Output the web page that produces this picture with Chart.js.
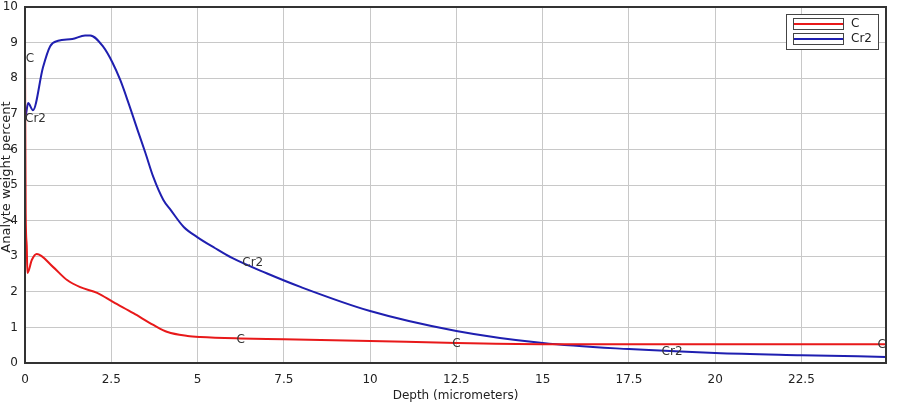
<!DOCTYPE html>
<html>
<head>
<meta charset="utf-8">
<script src="https://cdn.jsdelivr.net/npm/chart.js@4.4.1/dist/chart.umd.min.js"></script>
<style>
  html, body { margin: 0; padding: 0; background: #fff; }
  #wrap { width: 899px; height: 402px; }
</style>
</head>
<body>
<div id="wrap"><canvas id="chart"></canvas></div>
<script>
// Depth profile: analyte weight percent vs depth

const C_DEPTH = [0, 0.02, 0.05, 0.07, 0.2, 0.34, 0.81, 1.22, 1.6, 2.09, 2.56, 3.14, 3.72, 4.13, 4.71, 5.08, 6.25, 7.5, 10, 12.5, 15, 17.5, 20, 22.5, 24.95];
const C_VALUE = [8.6, 4.2, 3.3, 2.53, 2.9, 3.06, 2.7, 2.33, 2.13, 1.97, 1.71, 1.4, 1.07, 0.87, 0.76, 0.73, 0.69, 0.67, 0.62, 0.56, 0.53, 0.53, 0.53, 0.53, 0.53];

const CR2_DEPTH = [0, 0.03, 0.09, 0.23, 0.52, 0.73, 0.96, 1.37, 1.74, 1.89, 2.27, 2.53, 2.76, 3.0, 3.26, 3.49, 3.72, 4.01, 4.22, 4.6, 5.0, 5.5, 6.0, 7.0, 8.0, 10, 12.5, 15, 17.5, 20, 22.5, 24.95];
const CR2_VALUE = [6.9, 7.0, 7.3, 7.1, 8.3, 8.9, 9.05, 9.1, 9.2, 9.2, 8.88, 8.45, 7.95, 7.3, 6.55, 5.9, 5.22, 4.58, 4.3, 3.82, 3.53, 3.23, 2.95, 2.52, 2.13, 1.46, 0.9, 0.56, 0.39, 0.28, 0.22, 0.17];

const X_TICKS = [0, 2.5, 5, 7.5, 10, 12.5, 15, 17.5, 20, 22.5];
const X_TITLE = 'Depth (micrometers)';
const Y_TITLE = 'Analyte weight percent';

// curve labels placed on the lines: [text, depth, value, align]
const CURVE_LABELS = [
  ['C', 0.02, 8.55, 'left'],
  ['Cr2', 0.0, 6.85, 'left'],
  ['Cr2', 6.6, 2.8, 'center'],
  ['C', 6.25, 0.65, 'center'],
  ['C', 12.5, 0.53, 'center'],
  ['Cr2', 18.75, 0.3, 'center'],
  ['C', 24.95, 0.52, 'right'],
];

const SERIES = [
  { name: 'C', color: '#e8191a' },
  { name: 'Cr2', color: '#1f1fb0' },
];

const FONT = '"DejaVu Sans", Verdana, sans-serif';

function toPoints(xs, ys) {
  return xs.map((x, i) => ({ x: x, y: ys[i] }));
}

const extras = {
  id: 'extras',
  afterDatasetsDraw(chart) {
    const { ctx, chartArea: a, scales } = chart;
    ctx.save();
    // frame
    ctx.strokeStyle = '#333';
    ctx.lineWidth = 2;
    ctx.strokeRect(a.left, a.top, a.right - a.left, a.bottom - a.top);

    // curve labels
    ctx.fillStyle = '#333';
    ctx.font = '12px ' + FONT;
    ctx.textBaseline = 'middle';
    CURVE_LABELS.forEach(([t, x, y, al]) => {
      ctx.textAlign = al;
      ctx.fillText(t, scales.x.getPixelForValue(x), scales.y.getPixelForValue(y));
    });

    // legend
    const lx = a.right - 100, ly = a.top + 7;
    ctx.fillStyle = '#fff';
    ctx.fillRect(lx, ly, 92, 35);
    ctx.lineWidth = 1;
    ctx.strokeStyle = '#444';
    ctx.strokeRect(lx + 0.5, ly + 0.5, 92, 35);
    SERIES.forEach((s, i) => {
      const y0 = ly + 4 + i * 15;
      ctx.strokeStyle = '#444';
      ctx.lineWidth = 1;
      ctx.strokeRect(lx + 7.5, y0 + 0.5, 50, 11);
      ctx.strokeStyle = s.color;
      ctx.lineWidth = 2;
      ctx.beginPath();
      ctx.moveTo(lx + 8, y0 + 6);
      ctx.lineTo(lx + 57, y0 + 6);
      ctx.stroke();
      ctx.fillStyle = '#222';
      ctx.textAlign = 'left';
      ctx.fillText(s.name, lx + 65, y0 + 6);
    });

    // axis titles
    ctx.fillStyle = '#222';
    ctx.font = '12px ' + FONT;
    ctx.textAlign = 'center';
    ctx.fillText(X_TITLE, (a.left + a.right) / 2, 396);
    ctx.font = '13px ' + FONT;
    ctx.translate(7, 177);
    ctx.rotate(-Math.PI / 2);
    ctx.fillText(Y_TITLE, 0, 0);
    ctx.restore();
  },
};

new Chart(document.getElementById('chart'), {
  type: 'line',
  data: {
    datasets: [
      {
        label: SERIES[0].name,
        data: toPoints(C_DEPTH, C_VALUE),
        borderColor: SERIES[0].color,
        borderWidth: 2,
        pointRadius: 0,
        cubicInterpolationMode: 'monotone',
      },
      {
        label: SERIES[1].name,
        data: toPoints(CR2_DEPTH, CR2_VALUE),
        borderColor: SERIES[1].color,
        borderWidth: 2,
        pointRadius: 0,
        cubicInterpolationMode: 'monotone',
      },
    ],
  },
  options: {
    responsive: true,
    maintainAspectRatio: false,
    animation: false,
    layout: { padding: { top: 7, right: 13, left: 0, bottom: 0 } },
    plugins: { legend: { display: false }, tooltip: { enabled: false } },
    scales: {
      x: {
        type: 'linear',
        min: 0,
        max: 24.95,
        afterBuildTicks: s => { s.ticks = X_TICKS.map(v => ({ value: v })); },
        afterFit: s => { s.height = 39; s.paddingLeft = 0; s.paddingRight = 0; },
        grid: { color: '#c8c8c8', drawTicks: false },
        border: { display: false },
        ticks: { padding: 10, color: '#222', font: { family: FONT, size: 12 } },
      },
      y: {
        min: 0,
        max: 10,
        afterFit: s => { s.width = 25; s.paddingTop = 0; s.paddingBottom = 0; },
        grid: { color: '#c8c8c8', drawTicks: false },
        border: { display: false },
        ticks: { stepSize: 1, padding: 7, color: '#222', font: { family: FONT, size: 12 } },
      },
    },
  },
  plugins: [extras],
});
</script>
</body>
</html>
